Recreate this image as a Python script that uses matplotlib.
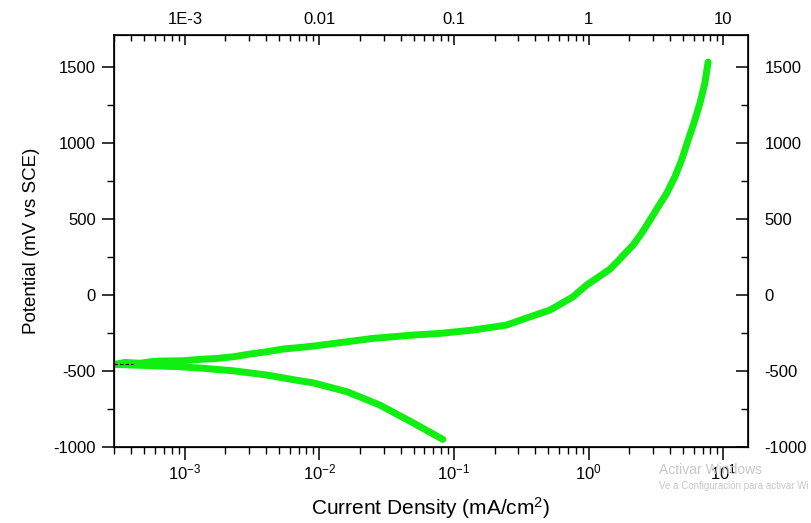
import numpy as np
import matplotlib
matplotlib.use("Agg")
from matplotlib import pyplot as plt
from matplotlib.ticker import LogLocator, FixedLocator, FixedFormatter, NullFormatter, MultipleLocator

plt.rcParams['font.family'] = ['Liberation Sans', 'DejaVu Sans']
plt.rcParams['mathtext.fontset'] = 'custom'
plt.rcParams['mathtext.rm'] = 'Liberation Sans'
plt.rcParams['mathtext.it'] = 'Liberation Sans'
plt.rcParams['axes.unicode_minus'] = False

# anodic branch (current density mA/cm2, potential mV)
anodic_i = [3.03e-4, 3.59e-4, 4.65e-4, 5.51e-4, 6.53e-4, 9.68e-4, 1.29e-3, 1.73e-3,
            2.28e-3, 3.04e-3, 4.06e-3, 5.35e-3, 7.14e-3, 8.93e-3, 0.0160, 0.0249,
            0.0493, 0.0783, 0.138, 0.245, 0.365, 0.513, 0.764, 0.962, 1.14, 1.43,
            1.65, 1.80, 2.13, 2.46, 2.84, 3.27, 3.78, 4.35, 4.88, 5.46, 6.12,
            6.67, 7.26, 7.69]
anodic_e = [-456, -443, -449, -439, -434, -432, -423, -417,
            -406, -388, -373, -355, -345, -336, -307, -285,
            -263, -252, -230, -197, -143, -99, -11, 66, 110, 170,
            225, 262, 329, 406, 493, 581, 669, 778, 888, 1020, 1151,
            1261, 1393, 1535]

# cathodic branch
cathodic_i = [3.03e-4, 4.65e-4, 9.20e-4, 1.29e-3, 2.28e-3, 4.06e-3, 7.14e-3,
              8.93e-3, 0.0160, 0.0281, 0.0493, 0.0824]
cathodic_e = [-456, -462, -472, -480, -498, -526, -564,
              -577, -636, -724, -840, -950]

# short dashed segment at the start
dash_i = [3.0e-4, 4.1e-4]
dash_e = [-452, -452]

x_major = [1e-3, 1e-2, 1e-1, 1, 10]
top_labels = ["1E-3", "0.01", "0.1", "1", "10"]
y_major = [-1000, -500, 0, 500, 1000, 1500]

fig = plt.figure(figsize=(8.11, 5.23), dpi=100)
ax = fig.add_axes([0.1406, 0.1453, 0.7817, 0.7870])

green = '#11ee11'
ax.plot(anodic_i, anodic_e, color=green, lw=5, solid_capstyle='round', solid_joinstyle='round')
ax.plot(cathodic_i, cathodic_e, color=green, lw=5, solid_capstyle='round', solid_joinstyle='round')
ax.plot(dash_i, dash_e, color='k', lw=0.8, ls=(0, (3, 2)))

ax.set_xscale('log')
ax.set_xlim(2.98e-4, 15.2)
ax.set_ylim(-1000, 1710)

ax.xaxis.set_major_locator(FixedLocator(x_major))
ax.xaxis.set_minor_locator(LogLocator(base=10, subs=np.arange(2, 10)))
ax.xaxis.set_minor_formatter(NullFormatter())
ax.set_xticklabels([r'$10^{-3}$', r'$10^{-2}$', r'$10^{-1}$', r'$10^{0}$', r'$10^{1}$'])
ax.yaxis.set_major_locator(FixedLocator(y_major))
ax.yaxis.set_minor_locator(MultipleLocator(250))

ax.tick_params(axis='both', which='major', direction='out', length=9, width=1.1, labelsize=12, pad=4)
ax.tick_params(axis='both', which='minor', direction='out', length=5, width=1.0)
ax.tick_params(axis='x', which='major', pad=2)

for s in ax.spines.values():
    s.set_linewidth(1.2)

# top axis
axt = ax.twiny()
axt.set_xscale('log')
axt.set_xlim(ax.get_xlim())
axt.xaxis.set_major_locator(FixedLocator(x_major))
axt.xaxis.set_major_formatter(FixedFormatter(top_labels))
axt.xaxis.set_minor_locator(LogLocator(base=10, subs=np.arange(2, 10)))
axt.xaxis.set_minor_formatter(NullFormatter())
axt.tick_params(axis='x', which='major', direction='in', length=7, width=1.1, labelsize=12, pad=6)
axt.tick_params(axis='x', which='minor', direction='in', length=4, width=1.0)

# right axis
axr = ax.twinx()
axr.set_ylim(ax.get_ylim())
axr.yaxis.set_major_locator(FixedLocator(y_major))
axr.yaxis.set_minor_locator(MultipleLocator(250))
axr.tick_params(axis='y', which='major', direction='in', length=9, width=1.1, labelsize=12, pad=12)
axr.tick_params(axis='y', which='minor', direction='in', length=5, width=1.0)

ax.set_xlabel(r'Current Density (mA/cm$^2$)', fontsize=15, labelpad=9)
ax.set_ylabel('Potential (mV vs SCE)', fontsize=13.5, labelpad=10)

fig.text(0.812, 0.093, 'Activar Windows', color='#c8c8c8', fontsize=10)
fig.text(0.812, 0.065, 'Ve a Configuración para activar Wi', color='#c8c8c8', fontsize=7)

fig.savefig('out.png', dpi=100)
